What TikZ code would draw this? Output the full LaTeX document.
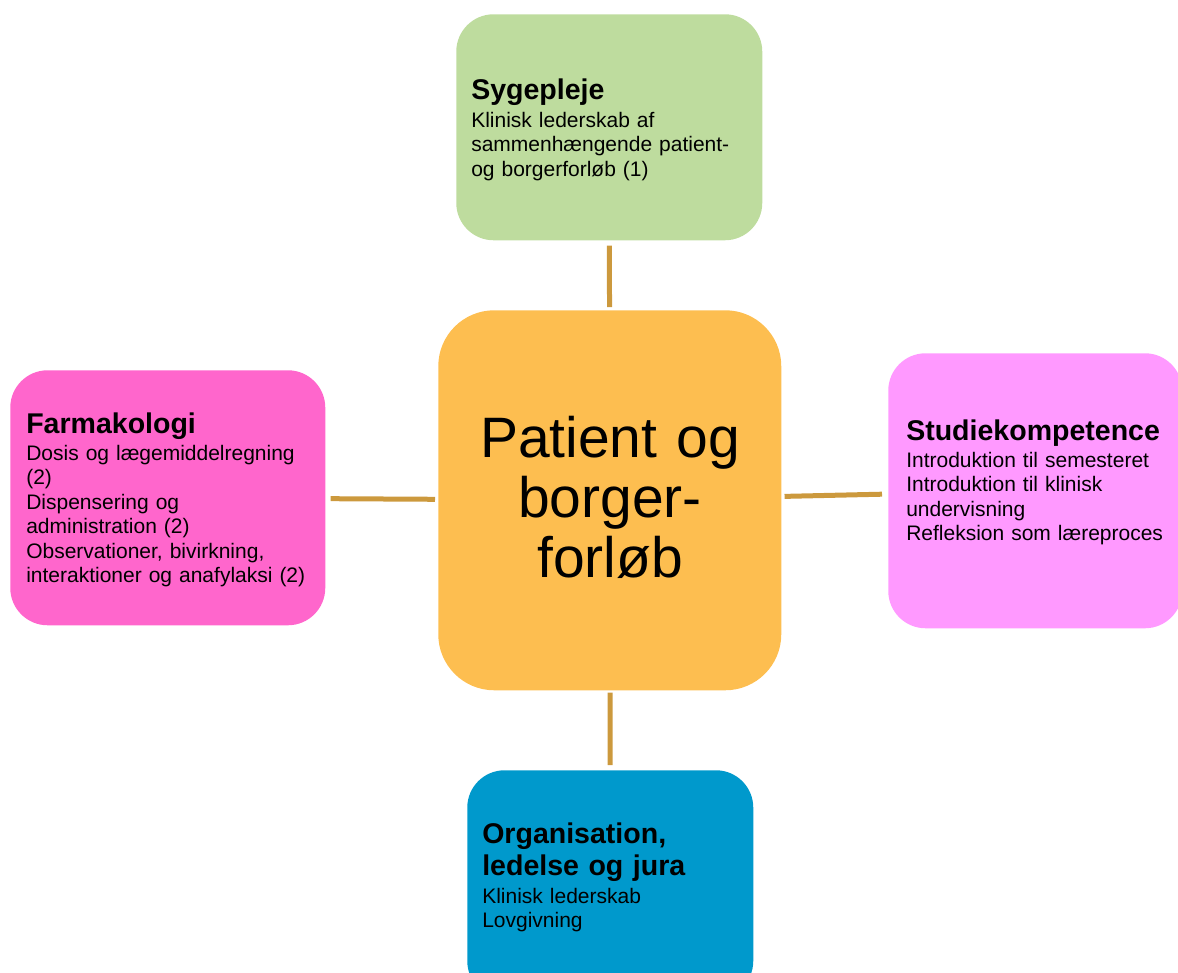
\documentclass[tikz,border=0pt]{standalone}
\usepackage{fontspec}
\setmainfont{Liberation Sans}

\definecolor{sygegreen}{RGB}{190,220,158}
\definecolor{forloborange}{RGB}{253,190,80}
\definecolor{farmapink}{RGB}{255,102,204}
\definecolor{studiepink}{RGB}{255,153,255}
\definecolor{orgblue}{RGB}{0,153,204}
\definecolor{linkbrown}{RGB}{204,153,61}

\newcommand{\bodyfont}{\fontsize{15.75}{18.4}\selectfont}
\newcommand{\headfont}{\bfseries\fontsize{21.4}{24}\selectfont}
\newcommand{\midfont}{\fontsize{42.75}{45}\selectfont}

\begin{document}
\begin{tikzpicture}[x=0.75pt,y=-0.75pt,
        box/.style={rectangle,rounded corners=28pt,inner sep=0pt,anchor=north west},
        conn/.style={draw=linkbrown,line width=3.75pt},
        head/.style={anchor=base west,inner sep=0pt,align=left,text width=230pt,font=\headfont},
        body/.style={anchor=base west,inner sep=0pt,align=left,text width=230pt,font=\bodyfont}]
        \useasboundingbox (0,0) rectangle (1178,972) ;
        \clip (0,0) rectangle (1178,972) ;
        % boxes
        \node[box,fill=sygegreen,minimum width=229.5pt,minimum height=169.5pt] (syge) at (456,14) {} ;
        \node[box,fill=forloborange,rounded corners=42pt,minimum width=257.25pt,minimum height=285pt] (forlob) at (438,310) {} ;
        \node[box,fill=farmapink,minimum width=236.25pt,minimum height=191.25pt] (farma) at (10,370) {} ;
        \node[box,fill=studiepink,minimum width=220.5pt,minimum height=206.25pt] (studie) at (888,353) {} ;
        \node[box,fill=orgblue,minimum width=214.5pt,minimum height=171pt] (org) at (467,770) {} ;
        % connectors
        \draw[conn,shorten <=3.75pt,shorten >=2.25pt] (syge) -- (forlob) ;
        \draw[conn,shorten <=3.75pt,shorten >=2.25pt] (farma) -- (forlob) ;
        \draw[conn,shorten <=4.5pt,shorten >=2.25pt] (studie) -- (forlob) ;
        \draw[conn,shorten <=3.75pt,shorten >=1.5pt] (org) -- (forlob) ;
        % texts
        \node[anchor=base,inner sep=0pt,align=center,text width=250pt,font=\midfont] (forlobtext) at (610,457)
        {Patient og\\borger-\\forløb} ;
        \node[head] (sygehead) at (471,99) {Sygepleje} ;
        \node[body] (sygetext) at (471,127)
        {Klinisk lederskab af\\sammenhængende patient-\\og borgerforløb (1)} ;
        \node[head] (farmahead) at (26,433) {Farmakologi} ;
        \node[body] (farmatext) at (26,460)
        {Dosis og lægemiddelregning\\(2)\\Dispensering og\\administration (2)\\Observationer, bivirkning,\\interaktioner og anafylaksi (2)} ;
        \node[head] (studiehead) at (906,440) {Studiekompetence} ;
        \node[body] (studietext) at (906,467)
        {Introduktion til semesteret\\Introduktion til klinisk\\undervisning\\Refleksion som læreproces} ;
        \node[head] (orghead) at (482,843) {Organisation,\\ledelse og jura} ;
        \node[body] (orgtext) at (482,903) {Klinisk lederskab\\Lovgivning} ;
\end{tikzpicture}
\end{document}
